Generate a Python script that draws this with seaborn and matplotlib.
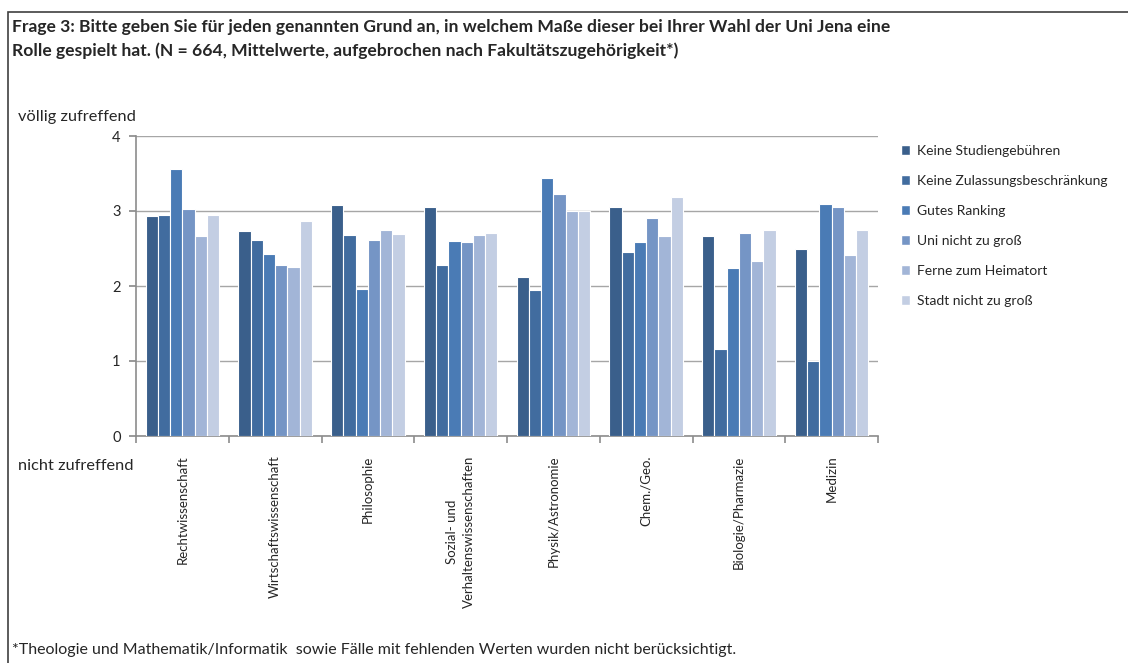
import matplotlib
matplotlib.use("Agg")
import matplotlib.pyplot as plt
import seaborn as sns
import pandas as pd
import numpy as np
from matplotlib.patches import Patch, Rectangle
from matplotlib.ticker import FixedLocator

sns.set_theme(style="white")
plt.rcParams['font.family'] = ['Lato', 'DejaVu Sans']

faculties = ["Rechtwissenschaft", "Wirtschaftswissenschaft", "Philosophie",
             "Sozial- und\nVerhaltenswissenschaften", "Physik/Astronomie",
             "Chem./Geo.", "Biologie/Pharmazie", "Medizin"]
reasons = ["Keine Studiengebühren", "Keine Zulassungsbeschränkung", "Gutes Ranking",
           "Uni nicht zu groß", "Ferne zum Heimatort", "Stadt nicht zu groß"]

keine_studiengebuehren = [2.93, 2.73, 3.08, 3.05, 2.12, 3.05, 2.67, 2.50]
keine_zulassung = [2.95, 2.62, 2.68, 2.28, 1.95, 2.45, 1.16, 1.00]
gutes_ranking = [3.56, 2.43, 1.96, 2.60, 3.44, 2.59, 2.24, 3.09]
uni_nicht_gross = [3.03, 2.28, 2.62, 2.59, 3.23, 2.91, 2.71, 3.05]
ferne_heimatort = [2.67, 2.26, 2.75, 2.68, 3.00, 2.67, 2.33, 2.42]
stadt_nicht_gross = [2.95, 2.87, 2.70, 2.71, 3.00, 3.19, 2.75, 2.75]

series = [keine_studiengebuehren, keine_zulassung, gutes_ranking,
          uni_nicht_gross, ferne_heimatort, stadt_nicht_gross]
colors = ["#3A5F8B", "#416C9F", "#4A7BB5", "#7595C5", "#A2B5D7", "#C3CEE3"]

rows = []
for r, vals in zip(reasons, series):
    for f, v in zip(faculties, vals):
        rows.append({"Fakultät": f, "Grund": r, "Wert": v})
df = pd.DataFrame(rows)

fig = plt.figure(figsize=(11.28, 6.63), dpi=100)
W, H = 1128, 663
ax = fig.add_axes([136 / W, 1 - 436 / H, (878 - 136) / W, (436 - 136) / H])

sns.barplot(data=df, x="Fakultät", y="Wert", hue="Grund", order=faculties,
            hue_order=reasons, palette=colors, saturation=1, width=0.79,
            edgecolor="white", linewidth=0.8, ax=ax, legend=False, zorder=3)

ax.set_ylim(0, 4)
ax.set_xlim(-0.5, len(faculties) - 0.5)
ax.set_yticks([0, 1, 2, 3, 4])
ax.set_yticklabels(["0", "1", "2", "3", "4"], fontsize=10.5)
ax.yaxis.grid(True, color="#A6A6A6", linewidth=1.0, zorder=0)
ax.set_axisbelow(True)
ax.set_xlabel("")
ax.set_ylabel("")
for s in ["top", "right"]:
    ax.spines[s].set_visible(False)
for s in ["left", "bottom"]:
    ax.spines[s].set_color("#8C8C8C")
    ax.spines[s].set_linewidth(1.2)
ax.tick_params(axis="y", which="major", left=True, length=5, color="#8C8C8C", pad=6)
ax.set_xticks(range(len(faculties)))
ax.set_xticklabels(faculties, rotation=90, fontsize=9.5, va="top", ha="center",
                   multialignment="center", linespacing=1.5)
ax.tick_params(axis="x", which="major", length=0, pad=14)
ax.xaxis.set_minor_locator(FixedLocator(np.arange(-0.5, len(faculties), 1.0)))
ax.tick_params(axis="x", which="minor", bottom=True, length=5, color="#8C8C8C", width=1.2)

handles = [Patch(facecolor=c, edgecolor="white") for c in colors]
fig.legend(handles, reasons, loc="upper left", bbox_to_anchor=(895 / W, 1 - 139 / H),
           frameon=False, fontsize=10, handlelength=0.7, handleheight=0.7,
           handletextpad=0.5, labelspacing=1.3, borderaxespad=0)

fig.text(18 / W, 1 - 117 / H, "völlig zufreffend", fontsize=11.8, va="center", ha="left")
fig.text(18 / W, 1 - 466 / H, "nicht zufreffend", fontsize=11.8, va="center", ha="left")

fig.text(12 / W, 1 - 27 / H,
         "Frage 3: Bitte geben Sie für jeden genannten Grund an, in welchem Maße dieser bei Ihrer Wahl der Uni Jena eine",
         fontsize=12.6, fontweight="bold", va="center", ha="left")
fig.text(12 / W, 1 - 51 / H,
         "Rolle gespielt hat. (N = 664, Mittelwerte, aufgebrochen nach Fakultätszugehörigkeit*)",
         fontsize=12.6, fontweight="bold", va="center", ha="left")
fig.text(12 / W, 1 - 650 / H,
         "*Theologie und Mathematik/Informatik  sowie Fälle mit fehlenden Werten wurden nicht berücksichtigt.",
         fontsize=11.5, va="center", ha="left")

fig.patches.append(Rectangle((8 / W, -0.05), 1.1, 1 - 12 / H + 0.05, transform=fig.transFigure,
                             fill=False, edgecolor="#404040", linewidth=1.2))

fig.savefig("out.png", dpi=100)
